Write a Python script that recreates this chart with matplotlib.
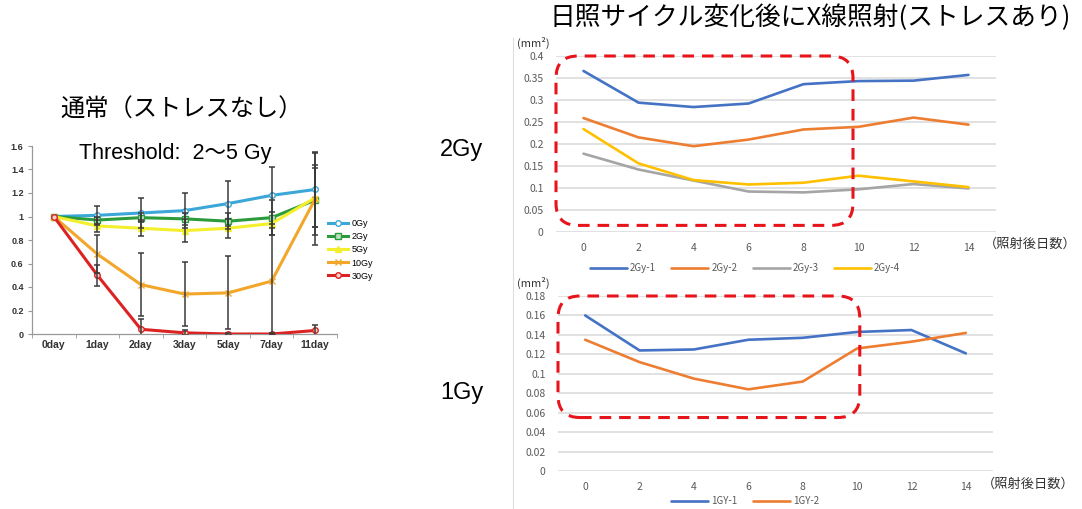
import matplotlib
matplotlib.use("Agg")
import matplotlib.pyplot as plt
import numpy as np
from matplotlib.patches import FancyBboxPatch
from matplotlib.transforms import IdentityTransform
from matplotlib.lines import Line2D

# ---------------- data: left chart (normal, no stress) ----------------
days = ["0day", "1day", "2day", "3day", "5day", "7day", "11day"]
doses = ["0Gy", "2Gy", "5Gy", "10Gy", "30Gy"]
gy0 = [1.0, 1.01, 1.03, 1.05, 1.11, 1.18, 1.23]
gy2 = [1.0, 0.97, 0.99, 0.98, 0.96, 0.99, 1.14]
gy5 = [1.0, 0.92, 0.90, 0.88, 0.90, 0.94, 1.16]
gy10 = [1.0, 0.68, 0.42, 0.34, 0.35, 0.45, 1.15]
gy30 = [1.0, 0.50, 0.04, 0.01, 0.00, 0.00, 0.03]
err0 = [0, 0.08, 0.13, 0.15, 0.19, 0.24, 0.32]
err2 = [0, 0.03, 0.04, 0.05, 0.07, 0.15, 0.30]
err5 = [0, 0.05, 0.07, 0.10, 0.08, 0.10, 0.25]
err10 = [0, 0.16, 0.27, 0.27, 0.31, 0.45, 0.39]
err30 = [0, 0.09, 0.09, 0.02, 0.01, 0.01, 0.05]

# ---------------- data: right charts (after light cycle change) ----------------
day_after = [0, 2, 4, 6, 8, 10, 12, 14]
s2gy_1 = [0.366, 0.294, 0.284, 0.292, 0.336, 0.343, 0.344, 0.357]
s2gy_2 = [0.259, 0.215, 0.195, 0.210, 0.233, 0.239, 0.260, 0.244]
s2gy_3 = [0.178, 0.142, 0.117, 0.092, 0.090, 0.097, 0.109, 0.099]
s2gy_4 = [0.234, 0.156, 0.118, 0.108, 0.112, 0.128, 0.115, 0.102]
s1gy_1 = [0.160, 0.124, 0.125, 0.135, 0.137, 0.143, 0.145, 0.121]
s1gy_2 = [0.135, 0.112, 0.095, 0.084, 0.092, 0.126, 0.133, 0.142]

# highlighted regions (x0, y0, x1, y1) in data units
box_2gy = (-1.0, 0.015, 9.8, 0.40)
box_1gy = (-1.0, 0.055, 10.1, 0.18)

JP = ["Noto Sans CJK JP", "DejaVu Sans"]
plt.rcParams["font.family"] = JP

W, H = 1082, 509
fig = plt.figure(figsize=(W / 100, H / 100), dpi=100)


def px_axes(x0, y0, x1, y1):
    return fig.add_axes([x0 / W, 1 - y1 / H, (x1 - x0) / W, (y1 - y0) / H])


# ---------------- left chart ----------------
ax = px_axes(32, 146, 337, 334)
x = np.arange(len(days))
series = [
    (gy0, err0, "#3ba7d9", "o", "white"),
    (gy2, err2, "#2b9b3c", "s", "#bfe3c2"),
    (gy5, err5, "#f4ef2c", "^", "#f4ef2c"),
    (gy10, err10, "#f2a62a", "x", "#f2a62a"),
    (gy30, err30, "#dc2323", "o", "#f6d0c8"),
]
for (vals, err, col, mk, fc), lab in zip(series, doses):
    vals = np.array(vals)
    err = np.array(err)
    ax.plot(x, vals, color=col, lw=2.2, marker=mk, ms=4, mfc=fc, mec=col,
            mew=1, label=lab, zorder=3)
    m = err > 0
    ax.errorbar(x[m], vals[m], yerr=err[m], fmt="none", ecolor="#3a3a3a",
                elinewidth=1.1, capsize=2.5, capthick=1.1, zorder=4)

ax.set_xlim(-0.5, len(days) - 0.5)
ax.set_ylim(0, 1.6)
ax.set_xticks(x)
ax.set_xticklabels(days, fontsize=7.5, fontweight="bold", color="#333333",
                   family=["Liberation Sans"])
ax.set_xticks(np.arange(-0.5, len(days), 1), minor=True)
ax.tick_params(axis="x", which="major", length=0, pad=4)
ax.tick_params(axis="x", which="minor", length=3, color="#999999")
yt = np.arange(0, 1.61, 0.2)
ax.set_yticks(yt)
ax.set_yticklabels([f"{v:g}" for v in yt], fontsize=6.5, fontweight="bold",
                   color="#333333", family=["Liberation Sans"])
ax.tick_params(axis="y", length=3, color="#999999", pad=3)
for s in ["top", "right"]:
    ax.spines[s].set_visible(False)
for s in ["left", "bottom"]:
    ax.spines[s].set_color("#999999")
    ax.spines[s].set_linewidth(0.9)
ax.legend(loc="center left", bbox_to_anchor=(320 / W, 1 - 250 / H),
          bbox_transform=fig.transFigure, frameon=False,
          handlelength=2.2, labelspacing=0.45, handletextpad=0.4,
          prop={"family": "Liberation Sans", "size": 6.5})

fig.text(182 / W, 1 - 110 / H, "通常（ストレスなし）", fontsize=17.5,
         ha="center", va="center")
fig.text(175 / W, 1 - 153 / H, "Threshold:  2〜5 Gy", fontsize=15.5,
         ha="center", va="center", family=["Liberation Sans", "Noto Sans CJK JP"])

# ---------------- right charts ----------------
fig.text(810 / W, 1 - 18 / H, "日照サイクル変化後にX線照射(ストレスあり)",
         fontsize=18.5, ha="center", va="center")
fig.add_artist(Line2D([513 / W, 513 / W], [0, 1 - 38 / H],
                      transform=fig.transFigure, color="#dddddd", lw=0.8))

excel = ["#4472c4", "#ed7d31", "#a5a5a5", "#ffc000"]


def excel_chart(ax, data, labels, ymax, step, box, leg_y):
    for vals, lab, col in zip(data, labels, excel):
        ax.plot(day_after, vals, color=col, lw=1.9, label=lab,
                solid_capstyle="round", zorder=3)
    ax.set_xlim(-1, 15)
    ax.set_ylim(0, ymax)
    ax.set_xticks(day_after)
    ax.set_xticklabels([str(d) for d in day_after], fontsize=7.5, color="#595959")
    yt = np.arange(0, ymax + step / 2, step)
    ax.set_yticks(yt)
    ax.set_yticklabels([f"{v:g}" for v in yt], fontsize=7.5, color="#595959")
    ax.tick_params(length=0, pad=8)
    ax.tick_params(axis="y", pad=9)
    ax.grid(axis="y", color="#d9d9d9", lw=1.1)
    ax.set_axisbelow(True)
    for s in ax.spines.values():
        s.set_visible(False)
    ax.legend(loc="center", bbox_to_anchor=(745 / W, 1 - leg_y / H),
              bbox_transform=fig.transFigure, ncol=len(data), frameon=False,
              fontsize=7, handlelength=3.8, columnspacing=1.6,
              handletextpad=0.3, labelcolor="#595959")
    # red dashed rounded box
    (px0, py0), (px1, py1) = ax.transData.transform([[box[0], box[1]],
                                                      [box[2], box[3]]])
    fig.add_artist(FancyBboxPatch((px0, py0), px1 - px0, py1 - py0,
                                  boxstyle="round,pad=0,rounding_size=22",
                                  transform=IdentityTransform(), fill=False,
                                  ec="#e8141c", lw=2.2, ls=(0, (3.8, 2.6)),
                                  zorder=5))


ax2 = px_axes(556, 56, 996, 232)
excel_chart(ax2, [s2gy_1, s2gy_2, s2gy_3, s2gy_4],
            ["2Gy-1", "2Gy-2", "2Gy-3", "2Gy-4"], 0.4, 0.05, box_2gy, 268)
fig.text(533 / W, 1 - 43 / H, "(mm²)", fontsize=8, ha="center", va="center",
         color="#333333")
fig.text(1030 / W, 1 - 244 / H, "（照射後日数）", fontsize=9.5, ha="center",
         va="center", color="#333333")

ax1 = px_axes(558, 296, 993, 471)
excel_chart(ax1, [s1gy_1, s1gy_2], ["1GY-1", "1GY-2"], 0.18, 0.02, box_1gy, 501)
fig.text(533 / W, 1 - 283 / H, "(mm²)", fontsize=8, ha="center", va="center",
         color="#333333")
fig.text(1028 / W, 1 - 484 / H, "（照射後日数）", fontsize=9.5, ha="center",
         va="center", color="#333333")

fig.text(440 / W, 1 - 150 / H, "2Gy", fontsize=17, ha="left", va="center",
         family=["Liberation Sans"])
fig.text(440 / W, 1 - 393 / H, "1Gy", fontsize=17, ha="left", va="center",
         family=["Liberation Sans"])

fig.savefig("out.png", dpi=100)
